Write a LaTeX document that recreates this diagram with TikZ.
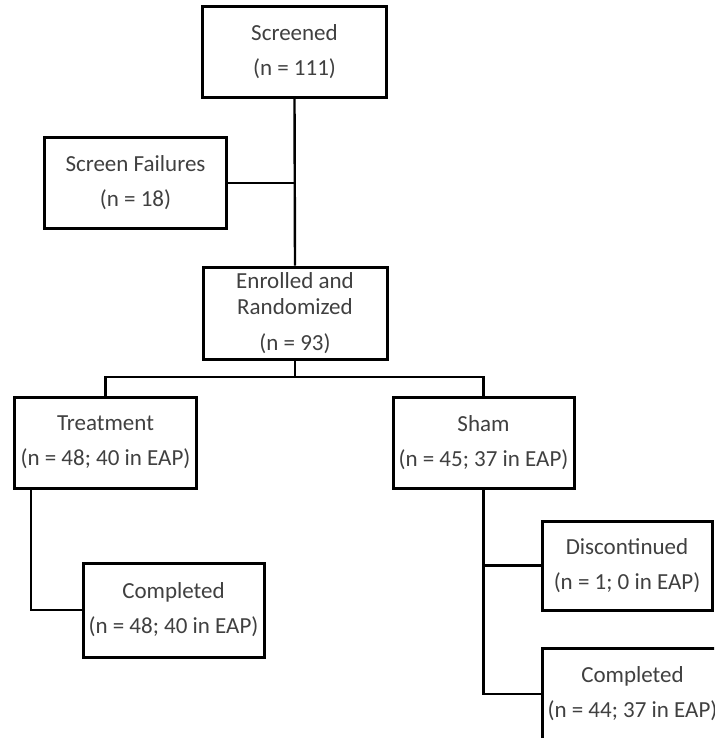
\documentclass[tikz,border=0pt]{standalone}
\usepackage{fontspec}
\setmainfont{Carlito}
\usepackage{tikz}
\usetikzlibrary{positioning}
\definecolor{txtGray}{RGB}{64,64,64}

\begin{document}
\begin{tikzpicture}[x=0.5pt, y=-0.5pt,
    flowbox/.style={draw=black, line width=1.5pt, fill=white, align=center,
      text=txtGray, font=\fontsize{11.5}{13}\selectfont, inner sep=0pt,
      minimum width=91pt, minimum height=45.5pt},
    link/.style={line width=1.2pt, draw=black}
  ]
    \useasboundingbox (0,0) rectangle (714,738);
    \clip (0,0) rectangle (714,738);
    % top of the flow
    \node[flowbox, minimum width=92pt] (scr) at (294.5,52) {Screened\\[4.5pt](n = 111)};
    \node[flowbox] (fail) at (135.5,183) {Screen Failures\\[4.5pt](n = 18)};
    \node[flowbox, minimum width=92pt, minimum height=46pt] (enr) at (295,313)
      {Enrolled and\\Randomized\\[5pt](n = 93)};
    % two arms
    \node[flowbox] (treat) at (105.5,442.5) {Treatment\\[4.5pt](n = 48; 40 in EAP)};
    \node[flowbox, minimum width=90.5pt] (sham) at (483.5,442.5) {Sham\\[4.5pt](n = 45; 37 in EAP)};
    \node[flowbox, minimum width=90.5pt, minimum height=47pt] (compT) at (173.5,610)
      {Completed\\[4.5pt](n = 48; 40 in EAP)};
    \node[flowbox, minimum width=85pt, minimum height=44.5pt] (disc) at (627,565.5)
      {Discontinued\\[4.5pt](n = 1; 0 in EAP)};
    \node[flowbox, minimum width=90.5pt, minimum height=46pt] (compS) at (632.5,694)
      {Completed\\[4.5pt](n = 44; 37 in EAP)};
    \coordinate (split) at (295,377);
    % connectors
    \draw[link] (scr.south) -- (enr.north);
    \draw[link] (fail.east) -- (fail.east -| scr.south);
    \draw[link] (enr.south) -- (split);
    \draw[link] (treat.north) |- (split) -| (sham.north);
    \draw[link] ([xshift=9pt]treat.south west) |- (compT.west);
    \draw[link] (sham.south) |- (disc.west);
    \draw[link] (sham.south) |- (compS.west);
\end{tikzpicture}
\end{document}
